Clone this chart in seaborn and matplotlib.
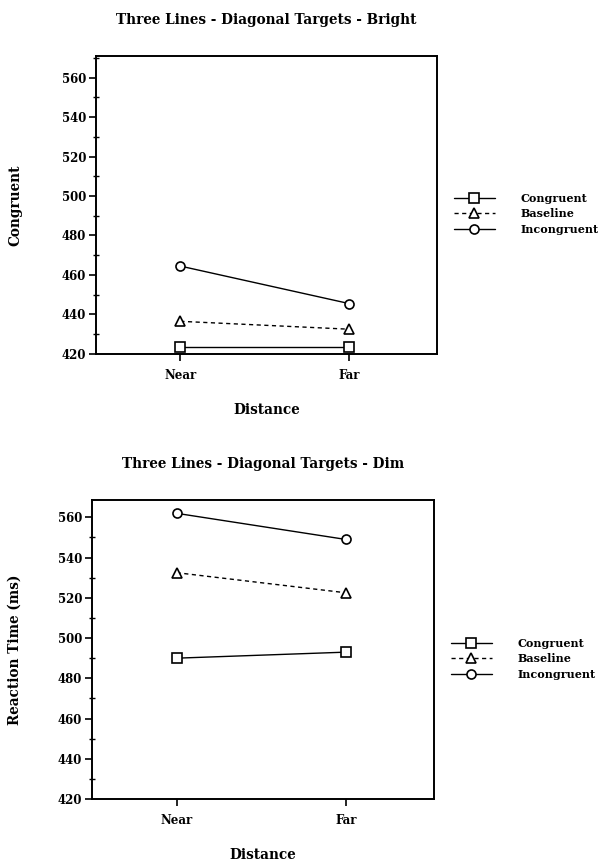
import pandas as pd
import numpy as np
import matplotlib
matplotlib.use("Agg")
import matplotlib.pyplot as plt
import seaborn as sns
from matplotlib.ticker import MultipleLocator

# data
distance = ["Near", "Far"]
conditions = ["Congruent", "Baseline", "Incongruent"]
bright_congruent = [423.5, 423.5]
bright_baseline = [436.5, 432.5]
bright_incongruent = [464.5, 445.5]
dim_congruent = [490, 493]
dim_baseline = [532.5, 522.5]
dim_incongruent = [562, 549]
y_ticks = [420, 440, 460, 480, 500, 520, 540, 560]


def make_df(cong, base, incong):
    rows = []
    for name, vals in zip(conditions, [cong, base, incong]):
        for d, v in zip(distance, vals):
            rows.append({"Distance": d, "RT": v, "Condition": name})
    return pd.DataFrame(rows)


sns.set_style("ticks", {"axes.edgecolor": "black", "text.color": "black",
                        "axes.labelcolor": "black", "xtick.color": "black",
                        "ytick.color": "black"})
plt.rcParams["font.family"] = ["DejaVu Serif"]
plt.rcParams["font.weight"] = "bold"

markers = {"Congruent": "s", "Baseline": "^", "Incongruent": "o"}
dashes = {"Congruent": "", "Baseline": (3, 2.5), "Incongruent": ""}
palette = {c: "black" for c in conditions}

fig = plt.figure(figsize=(5.98, 8.61), dpi=100)
ax1 = fig.add_axes([0.1605, 0.589, 0.570, 0.346])
ax2 = fig.add_axes([0.1538, 0.072, 0.572, 0.347])

panels = [
    (ax1, make_df(bright_congruent, bright_baseline, bright_incongruent),
     "Three Lines - Diagonal Targets - Bright", "Congruent", 571, -0.217),
    (ax2, make_df(dim_congruent, dim_baseline, dim_incongruent),
     "Three Lines - Diagonal Targets - Dim", "Reaction Time (ms)", 568.5, -0.205),
]

for ax, df, title, ylab, ytop, ylab_x in panels:
    sns.lineplot(data=df, x="Distance", y="RT", hue="Condition", style="Condition",
                 hue_order=conditions, style_order=conditions,
                 palette=palette, markers=markers, dashes=dashes,
                 markersize=6.5, markerfacecolor="white", markeredgecolor="black",
                 markeredgewidth=1.2, linewidth=1.0, legend=False, ax=ax)
    ax.set_xlim(-0.5, 1.52)
    ax.set_ylim(420, ytop)
    ax.set_yticks(y_ticks)
    ax.yaxis.set_minor_locator(MultipleLocator(10))
    ax.tick_params(axis="y", which="major", direction="out", length=5, width=1.2,
                   labelsize=8.5, pad=2)
    ax.tick_params(axis="y", which="minor", direction="inout", length=4, width=1)
    ax.tick_params(axis="x", which="major", direction="out", length=5, width=1.2,
                   labelsize=8.5, pad=6)
    for s in ax.spines.values():
        s.set_linewidth(1.4)
    ax.set_title(title, fontsize=9.8, fontweight="bold", pad=23)
    ax.set_ylabel(ylab, fontsize=9.8, fontweight="bold")
    ax.yaxis.set_label_coords(ylab_x, 0.5)
    ax.set_xlabel("Distance", fontsize=9.8, fontweight="bold")
    ax.xaxis.set_label_coords(0.5, -0.165)

    handles = ax.lines[:3]
    ax.legend(handles, conditions, loc="center left", bbox_to_anchor=(1.02, 0.47),
              frameon=False, fontsize=8, handlelength=3.7, handletextpad=2.3,
              labelspacing=0.4, numpoints=1)

fig.savefig("out.png", dpi=100)
